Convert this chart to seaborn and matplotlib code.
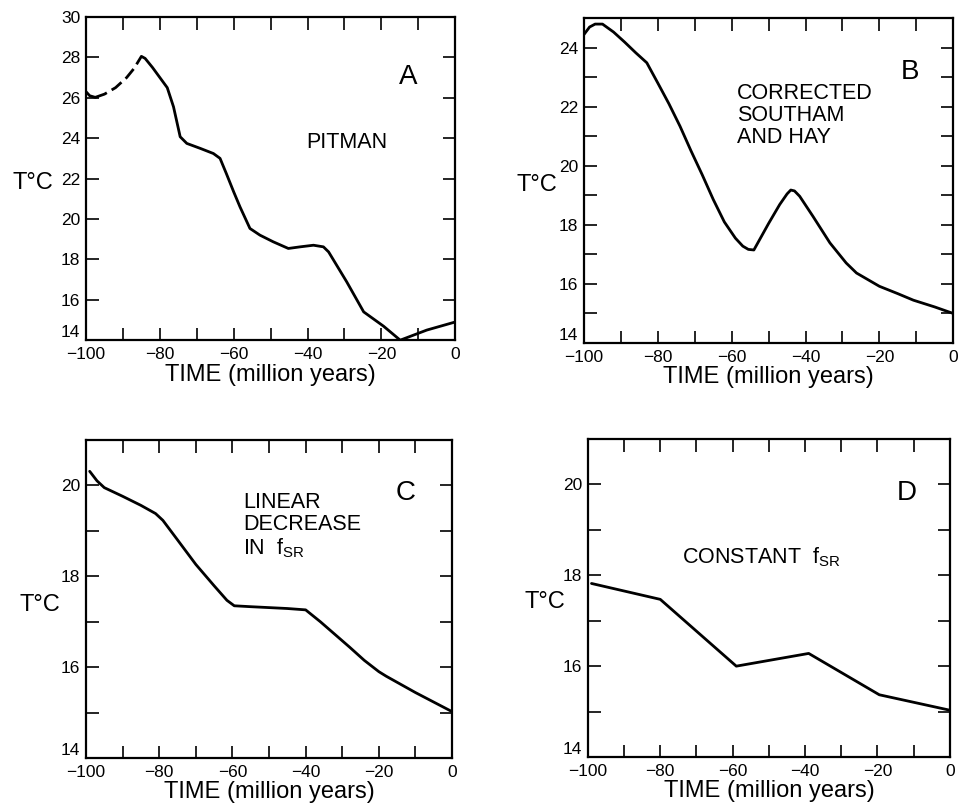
import numpy as np
import pandas as pd
import matplotlib
matplotlib.use("Agg")
import matplotlib.pyplot as plt
import seaborn as sns
from matplotlib.ticker import MultipleLocator

# ---------------- data ----------------
# Panel A (Pitman)
a_early_time = [-100, -99, -97.5]
a_early_temp = [26.3, 26.1, 26.02]
a_dash_time = [-97.5, -95, -92, -89, -87, -85]
a_dash_temp = [26.02, 26.18, 26.5, 27.0, 27.45, 28.05]
a_time = [-85, -84, -82, -80, -78, -76.3, -74.5, -72.7, -69, -65.5, -63.7, -62, -60, -58.3,
          -55.6, -52.9, -49.3, -45.2, -42, -38.4, -35.7, -34.3, -29.4, -24.8, -19.4, -14.9,
          -7.7, 0]
a_temp = [28.05, 27.95, 27.5, 27.0, 26.5, 25.55, 24.07, 23.74, 23.49, 23.24, 23.0, 22.25,
          21.34, 20.6, 19.53, 19.2, 18.87, 18.54, 18.62, 18.7, 18.62, 18.37, 16.89, 15.4,
          14.69, 14.0, 14.5, 14.9]

# Panel B (corrected Southam and Hay)
b_time = [-100, -98.5, -97, -95, -92, -89, -86, -83, -80, -77, -74, -71, -68, -65, -62,
          -59, -57, -55.5, -54, -52, -50, -47, -45, -44, -43, -41.6, -38, -33.4, -29,
          -26.2, -20, -15, -10.8, -5, 0]
b_temp = [24.45, 24.7, 24.8, 24.8, 24.53, 24.19, 23.83, 23.49, 22.8, 22.1, 21.34, 20.5,
          19.7, 18.86, 18.1, 17.55, 17.28, 17.17, 17.15, 17.6, 18.05, 18.69, 19.05, 19.18,
          19.15, 18.97, 18.29, 17.39, 16.71, 16.37, 15.92, 15.67, 15.45, 15.22, 15.0]

# Panel C (linear decrease in f_SR)
c_time = [-99, -97, -95, -90, -85, -81, -79, -75, -70, -65, -61.5, -59.5, -55, -50, -45,
          -40, -36, -32, -28, -24, -20, -18, -14, -10, -5, 0]
c_temp = [20.31, 20.1, 19.95, 19.76, 19.56, 19.38, 19.23, 18.8, 18.26, 17.79, 17.47, 17.35,
          17.33, 17.31, 17.29, 17.26, 17.0, 16.72, 16.44, 16.15, 15.9, 15.8, 15.62, 15.44,
          15.23, 15.02]

# Panel D (constant f_SR)
d_time = [-99, -80, -59, -39, -19.5, 0]
d_temp = [17.82, 17.47, 16.0, 16.28, 15.37, 15.03]

x_ticks = [-100, -80, -60, -40, -20, 0]
x_ticklabels = ["\u2212100", "\u221280", "\u221260", "\u221240", "\u221220", "0"]

# ---------------- style ----------------
sns.set_style("ticks")
plt.rcParams["font.family"] = ["Liberation Sans", "DejaVu Sans"]
plt.rcParams["mathtext.fontset"] = "custom"
plt.rcParams["mathtext.rm"] = "Liberation Sans"
plt.rcParams["mathtext.it"] = "Liberation Sans"
plt.rcParams["axes.edgecolor"] = "black"
plt.rcParams["axes.linewidth"] = 1.6
plt.rcParams["text.color"] = "black"
plt.rcParams["axes.labelcolor"] = "black"
plt.rcParams["xtick.color"] = "black"
plt.rcParams["ytick.color"] = "black"

fig = plt.figure(figsize=(9.59, 8.08), dpi=100)
fig.patch.set_facecolor("white")

axA = fig.add_axes([0.0897, 0.579, 0.385, 0.400])
axB = fig.add_axes([0.609, 0.5755, 0.385, 0.402])
axC = fig.add_axes([0.0897, 0.0619, 0.3817, 0.3936])
axD = fig.add_axes([0.613, 0.0631, 0.3775, 0.3936])

LW = 2.0

def draw(ax, t, v, **kw):
    df = pd.DataFrame({"time": t, "temp": v})
    sns.lineplot(data=df, x="time", y="temp", ax=ax, color="black", linewidth=LW,
                 sort=False, estimator=None, **kw)

draw(axA, a_early_time, a_early_temp)
draw(axA, a_dash_time, a_dash_temp, linestyle=(0, (4.5, 2.0)))
draw(axA, a_time, a_temp)
draw(axB, b_time, b_temp)
draw(axC, c_time, c_temp)
draw(axD, d_time, d_temp)

ylims = {axA: (14, 30), axB: (14, 25), axC: (14, 21), axD: (14, 21)}
ylab_pos = {axA: (-0.145, 0.486), axB: (-0.127, 0.486), axC: (-0.126, 0.481),
            axD: (-0.119, 0.487)}

for ax in [axA, axB, axC, axD]:
    ax.set_facecolor("white")
    ax.set_xlim(-100, 0)
    ax.set_ylim(*ylims[ax])
    ax.set_xticks(x_ticks)
    ax.set_xticklabels(x_ticklabels)
    ax.xaxis.set_minor_locator(MultipleLocator(10))
    if ax is axA:
        ax.set_yticks(np.arange(14, 31, 2))
    else:
        ax.set_yticks(np.arange(14, ylims[ax][1] + 0.1, 2))
        ax.yaxis.set_minor_locator(MultipleLocator(1))
    ax.tick_params(axis="both", which="both", direction="in", top=True, right=True,
                   length=9, width=1.2, colors="black")
    ax.tick_params(axis="x", which="major", labelsize=12.5, pad=5)
    ax.tick_params(axis="y", which="major", labelsize=12.5, pad=4)
    for s in ax.spines.values():
        s.set_visible(True)
        s.set_linewidth(1.6)
    ax.set_xlabel("TIME (million years)", fontsize=17, labelpad=1)
    ax.set_ylabel("T\u00b0C", fontsize=17, rotation=0, ha="center", va="center")
    ax.yaxis.set_label_coords(*ylab_pos[ax])
    # lift the "14" label above the corner so it clears "-100"
    ax.get_yticklabels()[0].set_verticalalignment("bottom")

# panel annotations
axA.text(0.873, 0.814, "A", transform=axA.transAxes, fontsize=20, ha="center", va="center")
axA.text(0.707, 0.613, "PITMAN", transform=axA.transAxes, fontsize=15.5, ha="center",
         va="center")

axB.text(0.883, 0.834, "B", transform=axB.transAxes, fontsize=20, ha="center", va="center")
axB.text(0.415, 0.80, "CORRECTED\nSOUTHAM\nAND HAY", transform=axB.transAxes,
         fontsize=15.5, ha="left", va="top", linespacing=1.05)

axC.text(0.872, 0.833, "C", transform=axC.transAxes, fontsize=20, ha="center", va="center")
axC.text(0.429, 0.835, "LINEAR\nDECREASE\nIN  f$_{\\mathrm{SR}}$", transform=axC.transAxes,
         fontsize=15.5, ha="left", va="top", linespacing=1.05)

axD.text(0.881, 0.830, "D", transform=axD.transAxes, fontsize=20, ha="center", va="center")
axD.text(0.26, 0.629, "CONSTANT  f$_{\\mathrm{SR}}$", transform=axD.transAxes,
         fontsize=15.5, ha="left", va="center")

fig.savefig("out.png", dpi=100, facecolor="white")
